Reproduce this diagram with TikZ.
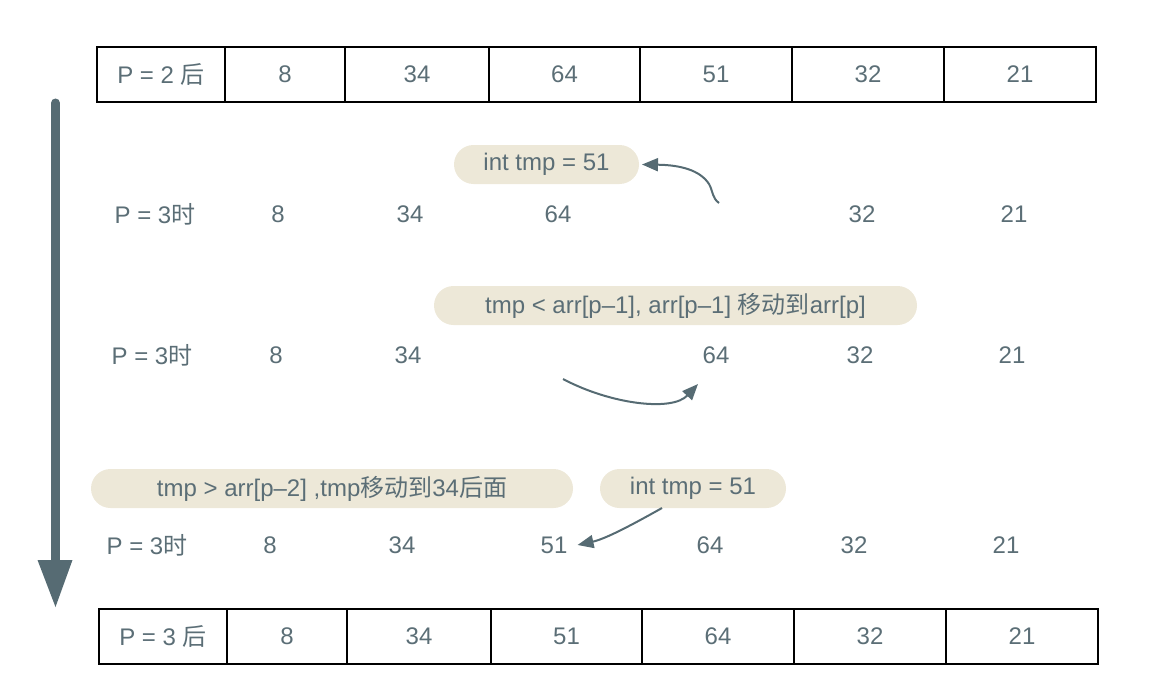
\documentclass[tikz,border=0pt]{standalone}
\usepackage{fontspec}
\setmainfont{Liberation Sans}
\newfontfamily\cjk{Noto Sans CJK SC}
\usetikzlibrary{arrows.meta}
\definecolor{txt}{HTML}{5B6E76}
\definecolor{pill}{HTML}{EDE8D8}
\definecolor{arr}{HTML}{566B73}
\newcommand{\zh}[1]{{\cjk #1}}
\tikzset{
  every node/.style={font=\fontsize{24}{28}\selectfont, text=txt},
  cell/.style={draw=black, line width=2pt, minimum height=55pt, inner sep=0pt, outer sep=0pt, anchor=west},
  num/.style={inner sep=0pt},
  pillbox/.style={fill=pill, rounded corners=19.5pt, minimum height=39pt, inner sep=0pt, outer sep=0pt, anchor=west},
  conn/.style={draw=arr, line width=2pt, -{Triangle[length=16pt,width=13pt]}},
}
\begin{document}
\begin{tikzpicture}[x=1pt,y=-1pt]
\useasboundingbox (0,0) rectangle (1150,698);
% big arrow
\coordinate (bs) at (55.5,103);
\coordinate (bm) at (55.5,562);
\coordinate (be) at (55.5,607);
\draw[arr, line width=9pt, line cap=round] (bs) -- (bm);
\fill[arr] (37.5,560) -- (72.5,560) -- (be) -- cycle;
% top table
\node[cell, minimum width=128pt] (t0) at (97,74.5) {P = 2 \zh{后}};
\node[cell, minimum width=120pt] (t1) at (t0.east) {8};
\node[cell, minimum width=144pt] (t2) at (t1.east) {34};
\node[cell, minimum width=151pt] (t3) at (t2.east) {64};
\node[cell, minimum width=152pt] (t4) at (t3.east) {51};
\node[cell, minimum width=152pt] (t5) at (t4.east) {32};
\node[cell, minimum width=152pt] (t6) at (t5.east) {21};
% bottom table
\node[cell, minimum width=128pt] (b0) at (99,636.5) {P = 3 \zh{后}};
\node[cell, minimum width=120pt] (b1) at (b0.east) {8};
\node[cell, minimum width=144pt] (b2) at (b1.east) {34};
\node[cell, minimum width=151pt] (b3) at (b2.east) {51};
\node[cell, minimum width=152pt] (b4) at (b3.east) {64};
\node[cell, minimum width=152pt] (b5) at (b4.east) {32};
\node[cell, minimum width=152pt] (b6) at (b5.east) {21};
% row 1
\node[num] (r1p) at (155,214) {P = 3\zh{时}};
\node[num] (r1a) at (278,214) {8};
\node[num] (r1b) at (410,214) {34};
\node[num] (r1c) at (558,214) {64};
\node[num] (r1e) at (862,214) {32};
\node[num] (r1f) at (1014,214) {21};
\node[pillbox, minimum width=185pt] (p1) at (454,164.5) {int tmp = 51};
% row 2
\node[num] (r2p) at (152,355) {P = 3\zh{时}};
\node[num] (r2a) at (276,355) {8};
\node[num] (r2b) at (408,355) {34};
\node[num] (r2d) at (716,355) {64};
\node[num] (r2e) at (860,355) {32};
\node[num] (r2f) at (1012,355) {21};
\node[pillbox, minimum width=483pt] (p2) at (434,305.5) {tmp < arr[p\textendash 1], arr[p\textendash 1] \zh{移动到}arr[p]};
% row 3
\node[num] (r3p) at (147,545) {P = 3\zh{时}};
\node[num] (r3a) at (270,545) {8};
\node[num] (r3b) at (402,545) {34};
\node[num] (r3c) at (554,545) {51};
\node[num] (r3d) at (710,545) {64};
\node[num] (r3e) at (854,545) {32};
\node[num] (r3f) at (1006,545) {21};
\node[pillbox, minimum width=482pt] (p3) at (91,488.5) {tmp > arr[p\textendash 2] ,tmp\zh{移动到}34\zh{后面}};
\node[pillbox, minimum width=186pt] (p4) at (600,488.5) {int tmp = 51};
% connectors
\coordinate (c1) at (719,203);
\draw[conn] (c1) .. controls (712,198) and (713,191) .. (709,184)
  .. controls (700,170) and (680,165) .. ([xshift=3pt]p1.east);
\coordinate (c2) at (563,379);
\coordinate (c2e) at (698,384);
\draw[conn] (c2) .. controls (610,404) and (672,412) .. (c2e);
\coordinate (c3) at (662,508);
\draw[conn] (c3) .. controls (630,526) and (605,539) .. ([xshift=10pt]r3c.east);
\end{tikzpicture}
\end{document}
